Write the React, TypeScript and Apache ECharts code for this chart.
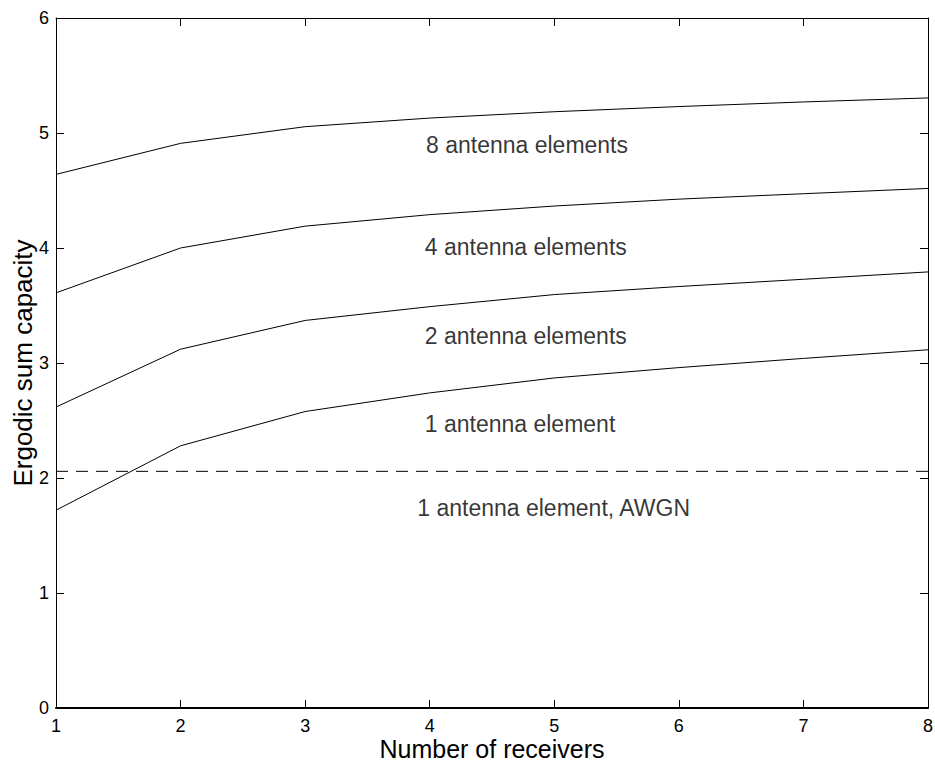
import React, { useEffect, useRef } from "react";
import * as echarts from "echarts";

const receivers = [1, 2, 3, 4, 5, 6, 7, 8];
const cap8 = [4.64, 4.91, 5.055, 5.13, 5.185, 5.23, 5.27, 5.305];
const cap4 = [3.61, 4.0, 4.19, 4.29, 4.365, 4.425, 4.472, 4.518];
const cap2 = [2.617, 3.12, 3.37, 3.49, 3.595, 3.665, 3.728, 3.792];
const cap1 = [1.72, 2.28, 2.578, 2.74, 2.87, 2.96, 3.04, 3.115];
const awgn1 = [2.058, 2.058, 2.058, 2.058, 2.058, 2.058, 2.058, 2.058];

const labelTexts = [
  "8 antenna elements",
  "4 antenna elements",
  "2 antenna elements",
  "1 antenna element",
  "1 antenna element, AWGN",
];
const labelX = [3.97, 3.96, 3.96, 3.96, 3.9];
const labelY = [4.9, 4.009, 3.232, 2.473, 1.739];

const FONT = "'Liberation Sans', Arial, Helvetica, sans-serif";

export default function App() {
  const ref = useRef<HTMLDivElement>(null);
  useEffect(() => {
    if (!ref.current) return;
    const chart = echarts.init(ref.current, null, { renderer: "svg" });
    const pair = (ys: number[]) => receivers.map((x, i) => [x, ys[i]]);
    const lineSeries = (ys: number[], dashed = false) => ({
      type: "line",
      data: pair(ys),
      showSymbol: false,
      symbol: "none",
      silent: true,
      lineStyle: {
        color: "#000",
        width: 1,
        type: dashed ? [12, 8] : "solid",
      },
    });
    const axisCommon = {
      type: "value",
      splitLine: { show: false },
      axisLine: { show: true, onZero: false, lineStyle: { color: "#000", width: 1 } },
      axisTick: { show: true, inside: true, length: 8, lineStyle: { color: "#000", width: 1 } },
    };
    chart.setOption({
      animation: false,
      backgroundColor: "#fff",
      textStyle: { fontFamily: FONT },
      grid: { left: 56, right: 7, top: 18, bottom: 53, outerBoundsMode: "none", containLabel: false },
      xAxis: [
        {
          ...axisCommon,
          position: "bottom",
          min: 1,
          max: 8,
          interval: 1,
          axisLine: { show: true, onZero: false, lineStyle: { color: "#000", width: 2 } },
          axisLabel: { show: true, color: "#000", fontSize: 18, lineHeight: 16, margin: 10, fontFamily: FONT },
          name: "Number of receivers",
          nameLocation: "middle",
          nameGap: 28,
          nameMoveOverlap: false,
          nameTextStyle: { color: "#000", fontSize: 25, fontFamily: FONT, lineHeight: 25 },
        },
        {
          ...axisCommon,
          position: "top",
          min: 1,
          max: 8,
          interval: 1,
          axisLabel: { show: false },
        },
      ],
      yAxis: [
        {
          ...axisCommon,
          position: "left",
          min: 0,
          max: 6,
          interval: 1,
          axisLabel: { show: true, color: "#000", fontSize: 18, margin: 7, fontFamily: FONT },
          name: "Ergodic sum capacity",
          nameLocation: "middle",
          nameGap: 20,
          nameRotate: 90,
          nameMoveOverlap: false,
          nameTextStyle: { color: "#000", fontSize: 26, fontFamily: FONT },
        },
        {
          ...axisCommon,
          position: "right",
          min: 0,
          max: 6,
          interval: 1,
          axisLabel: { show: false },
        },
      ],
      series: [
        lineSeries(cap8),
        lineSeries(cap4),
        lineSeries(cap2),
        lineSeries(cap1),
        lineSeries(awgn1, true),
        {
          type: "scatter",
          silent: true,
          symbolSize: 0,
          data: labelTexts.map((t, i) => ({ value: [labelX[i], labelY[i]], name: t })),
          label: {
            show: true,
            position: "right",
            distance: 0,
            formatter: (p: any) => p.name,
            color: "#000",
            fontSize: 23,
            fontFamily: FONT,
          },
        },
      ],
    });
    return () => chart.dispose();
  }, []);
  return (
    <div
      ref={ref}
      style={{ position: "fixed", left: 0, top: 0, width: 935, height: 761, background: "#fff" }}
    />
  );
}
